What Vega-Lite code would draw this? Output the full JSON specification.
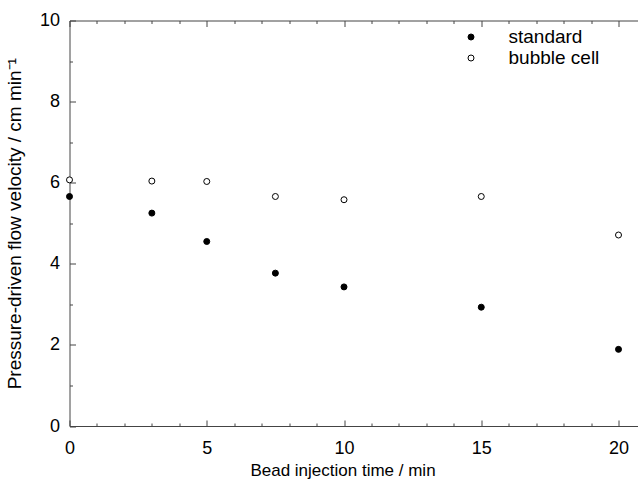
{
  "$schema": "https://vega.github.io/schema/vega-lite/v6.json",
  "width": 568.5,
  "height": 405.5,
  "autosize": {"type": "none"},
  "padding": {"left": 69.5, "top": 20.5, "right": 0, "bottom": 56},
  "background": "white",
  "config": {
    "view": {"stroke": null},
    "font": "Liberation Sans",
    "axis": {"labelFont": "Liberation Sans", "titleFont": "Liberation Sans", "labelColor": "black", "titleColor": "black", "titleFontWeight": "normal", "domainColor": "#444", "tickColor": "#444", "grid": false}
  },
  "data": {
    "values": [
      {"t": 0, "v": 5.66, "series": "standard"},
      {"t": 3, "v": 5.25, "series": "standard"},
      {"t": 5, "v": 4.55, "series": "standard"},
      {"t": 7.5, "v": 3.77, "series": "standard"},
      {"t": 10, "v": 3.43, "series": "standard"},
      {"t": 15, "v": 2.93, "series": "standard"},
      {"t": 20, "v": 1.89, "series": "standard"},
      {"t": 0, "v": 6.07, "series": "bubble cell"},
      {"t": 3, "v": 6.04, "series": "bubble cell"},
      {"t": 5, "v": 6.03, "series": "bubble cell"},
      {"t": 7.5, "v": 5.66, "series": "bubble cell"},
      {"t": 10, "v": 5.58, "series": "bubble cell"},
      {"t": 15, "v": 5.66, "series": "bubble cell"},
      {"t": 20, "v": 4.71, "series": "bubble cell"}
    ]
  },
  "resolve": {"axis": {"x": "independent"}},
  "layer": [
    {
      "mark": {"type": "point", "opacity": 0},
      "encoding": {
        "x": {"field": "t", "type": "quantitative", "scale": {"domain": [0, 20.71], "nice": false, "zero": false},
          "axis": {"orient": "top", "values": [0,1,2,3,4,5,6,7,8,9,10,11,12,13,14,15,16,17,18,19,20], "labels": false, "title": null,
            "tickSize": {"condition": {"test": "datum.value % 5 === 0", "value": -6}, "value": -3}}},
        "y": {"field": "v", "type": "quantitative", "scale": {"domain": [0, 10], "nice": false}}
      }
    },
    {
      "mark": {"type": "point", "filled": false, "stroke": "black", "strokeWidth": 1, "size": 36, "opacity": 1},
      "encoding": {
        "x": {"field": "t", "type": "quantitative", "scale": {"domain": [0, 20.71], "nice": false, "zero": false},
          "axis": {"orient": "bottom", "values": [0,1,2,3,4,5,6,7,8,9,10,11,12,13,14,15,16,17,18,19,20],
            "labelExpr": "datum.value % 5 === 0 ? datum.label : ''",
            "tickSize": {"condition": {"test": "datum.value % 5 === 0", "value": -6}, "value": -3},
            "labelPadding": 19, "labelFontSize": 18, "labelFlush": false,
            "title": "Bead injection time / min", "titleFontSize": 17, "titleX": 273, "titleY": 36, "titleAnchor": "middle"}},
        "y": {"field": "v", "type": "quantitative", "scale": {"domain": [0, 10], "nice": false},
          "axis": {"values": [0,1,2,3,4,5,6,7,8,9,10],
            "labelExpr": "datum.value % 2 === 0 ? datum.label : ''",
            "tickSize": {"condition": {"test": "datum.value % 2 === 0", "value": -6}, "value": -3},
            "labelPadding": 16, "labelFontSize": 18, "labelFlush": false,
            "title": "Pressure-driven flow velocity / cm min⁻¹", "titleFontSize": 19, "titlePadding": 15}},
        "fill": {"field": "series", "type": "nominal",
          "scale": {"domain": ["standard", "bubble cell"], "range": ["black", "white"]},
          "legend": {"title": null, "orient": "none", "legendX": 392, "legendY": 7, "labelFontSize": 19, "labelFont": "Liberation Sans", "symbolType": "circle", "symbolSize": 36, "symbolStrokeColor": "black", "symbolStrokeWidth": 1, "labelOffset": 28, "rowPadding": 1, "labelColor": "black"}}
      }
    }
  ]
}
